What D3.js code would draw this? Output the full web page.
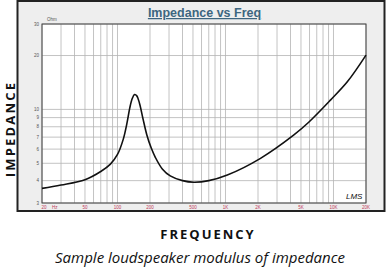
<!DOCTYPE html>
<html>
<head>
<meta charset="utf-8">
<script src="https://d3js.org/d3.v7.min.js"></script>
<style>
  body { margin: 0; background: #fff; }
  svg text { font-family: "Liberation Sans", Arial, sans-serif; }
</style>
</head>
<body>
<div id="chart"></div>
<script>
// impedance curve (Hz, ohms)
const freqs = [20, 30, 50, 70, 86, 100, 113, 122, 130, 137, 144, 151, 160, 172, 187, 205, 224, 260, 308, 400, 508, 700, 1040, 2110, 4300, 5930, 9420, 13480, 20000];
const ohms  = [3.62, 3.78, 4.05, 4.5, 4.95, 5.6, 6.8, 8.3, 10.2, 11.5, 12.1, 11.9, 10.8, 8.9, 7.2, 6.1, 5.4, 4.65, 4.25, 4.0, 3.92, 4.0, 4.3, 5.33, 7.2, 8.5, 11.3, 14.3, 20.1];

const xGrid = [20, 30, 40, 50, 60, 70, 80, 90, 100, 200, 300, 400, 500, 600, 700, 800, 900, 1000, 2000, 3000, 4000, 5000, 6000, 7000, 8000, 9000, 10000, 20000];
const xTicks = [20, 50, 100, 200, 500, 1000, 2000, 5000, 10000, 20000];
const xTickLabels = ["20", "50", "100", "200", "500", "1K", "2K", "5K", "10K", "20K"];
const yTicks = [3, 4, 5, 6, 7, 8, 9, 10, 20, 30];

const W = 392, H = 269;
const plot = { left: 42, right: 366, top: 24, bottom: 203 };

const svg = d3.select("#chart").append("svg")
    .attr("width", W)
    .attr("height", H);

// grey panel
svg.append("rect")
    .attr("x", 17.5).attr("y", 1).attr("width", 367).attr("height", 210)
    .attr("fill", "#eeeeee").attr("stroke", "#222").attr("stroke-width", 2);

svg.append("rect")
    .attr("x", plot.left).attr("y", plot.top)
    .attr("width", plot.right - plot.left).attr("height", plot.bottom - plot.top)
    .attr("fill", "#fff");

const x = d3.scaleLog().domain([20, 20000]).range([plot.left, plot.right]);
const y = d3.scaleLog().domain([3, 30]).range([plot.bottom, plot.top]);

// grid
svg.append("g").selectAll("line").data(xGrid).join("line")
    .attr("x1", d => x(d)).attr("x2", d => x(d))
    .attr("y1", plot.top).attr("y2", plot.bottom)
    .attr("stroke", "#b4b4b4").attr("stroke-width", 0.8);

svg.append("g").selectAll("line").data(yTicks).join("line")
    .attr("x1", plot.left).attr("x2", plot.right)
    .attr("y1", d => y(d)).attr("y2", d => y(d))
    .attr("stroke", "#b4b4b4").attr("stroke-width", 0.8);

svg.append("rect")
    .attr("x", plot.left).attr("y", plot.top)
    .attr("width", plot.right - plot.left).attr("height", plot.bottom - plot.top)
    .attr("fill", "none").attr("stroke", "#444").attr("stroke-width", 1);

// tick labels
svg.append("g").selectAll("text").data(yTicks).join("text")
    .attr("x", plot.left - 3).attr("y", d => y(d) + 1.5)
    .attr("text-anchor", "end")
    .attr("font-size", 4.5).attr("fill", "#555")
    .text(d => d);

svg.append("g").selectAll("text").data(xTicks).join("text")
    .attr("x", (d, i) => x(d) + (i === 0 ? 2 : 0)).attr("y", plot.bottom + 6)
    .attr("text-anchor", "middle")
    .attr("font-size", 4.5).attr("fill", "#c03a5a")
    .text((d, i) => xTickLabels[i]);

svg.append("text").attr("x", 52).attr("y", plot.bottom + 6)
    .attr("font-size", 4.5).attr("fill", "#c03a5a").text("Hz");
svg.append("text").attr("x", 47).attr("y", plot.top - 3)
    .attr("font-size", 4.5).attr("fill", "#555").text("Ohm");

// curve
const line = d3.line()
    .x((d, i) => x(freqs[i]))
    .y(d => y(d))
    .curve(d3.curveCatmullRom.alpha(0.5));

svg.append("path")
    .datum(ohms)
    .attr("d", line)
    .attr("fill", "none")
    .attr("stroke", "#111")
    .attr("stroke-width", 1.6);

// title
svg.append("text")
    .attr("x", 204.5).attr("y", 17)
    .attr("text-anchor", "middle")
    .attr("font-size", 12.5).attr("font-weight", "bold")
    .attr("fill", "#3d6680")
    .attr("text-decoration", "underline")
    .text("Impedance vs Freq");

// LMS mark
svg.append("text")
    .attr("x", 346).attr("y", 199)
    .attr("font-size", 8).attr("font-style", "italic")
    .attr("font-family", "DejaVu Serif").attr("fill", "#111")
    .text("LMS");

// axis titles
svg.append("text")
    .attr("transform", "translate(15,129) rotate(-90)")
    .attr("text-anchor", "middle")
    .attr("font-size", 13).attr("font-weight", "bold")
    .attr("letter-spacing", 2.2).attr("fill", "#111")
    .style("font-family", "'Open Sans', sans-serif")
    .text("IMPEDANCE");

svg.append("text")
    .attr("x", 208).attr("y", 239)
    .attr("text-anchor", "middle")
    .attr("font-size", 13).attr("font-weight", "bold")
    .attr("letter-spacing", 2).attr("fill", "#111")
    .style("font-family", "'Open Sans', sans-serif")
    .text("FREQUENCY");

svg.append("text")
    .attr("x", 200).attr("y", 263)
    .attr("text-anchor", "middle")
    .attr("font-size", 15).attr("font-style", "italic")
    .attr("fill", "#111")
    .style("font-family", "'Open Sans', sans-serif")
    .text("Sample loudspeaker modulus of impedance");
</script>
</body>
</html>
